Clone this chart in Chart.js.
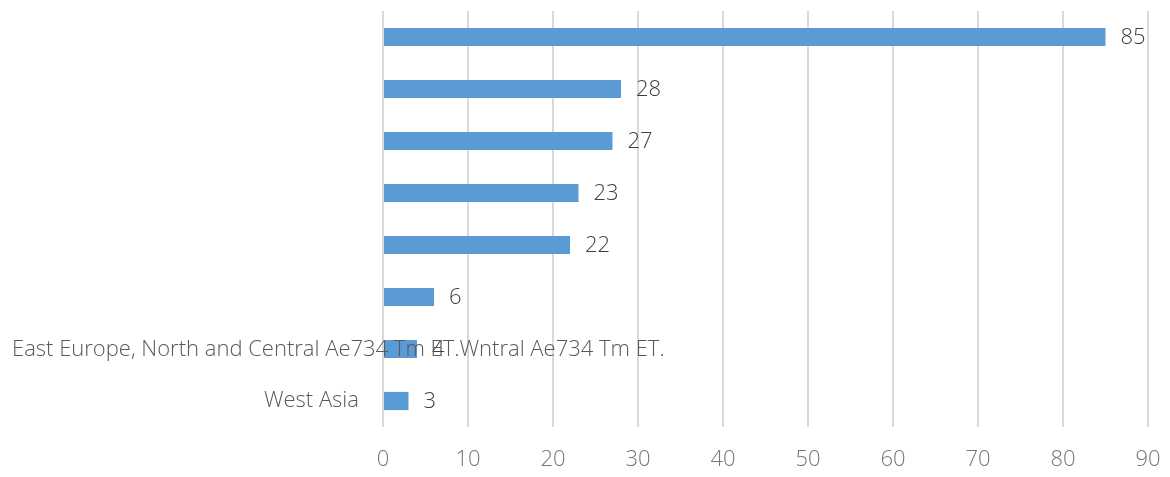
<!DOCTYPE html>
<html>
<head>
<meta charset="utf-8">
<script src="https://cdn.jsdelivr.net/npm/chart.js@4.4.0/dist/chart.umd.min.js"></script>
<style>
  html, body { margin: 0; padding: 0; background: #fff; }
  #wrap { width: 1170px; height: 477px; }
</style>
</head>
<body>
<div id="wrap"><canvas id="regionChart"></canvas></div>
<script>
var regions = ['', '', '', '', '', '', 'East Europe, North and Central Ae734 Tm ET.Wntral Ae734 Tm ET.', 'West Asia'];
var counts = [85, 28, 27, 23, 22, 6, 4, 3];
var xTicks = [0, 10, 20, 30, 40, 50, 60, 70, 80, 90];

// the long label sits left-aligned across the plot, so it is drawn separately
var longLabelIndex = 6;

var fontFamily = '"Open Sans", "Noto Sans", sans-serif';
var fontSize = 22;

var valueLabels = {
  id: 'valueLabels',
  afterDatasetsDraw: function(chart) {
    var ctx = chart.ctx;
    var meta = chart.getDatasetMeta(0);
    ctx.save();
    ctx.font = '300 ' + fontSize + 'px ' + fontFamily;
    ctx.fillStyle = '#404040';
    ctx.textBaseline = 'middle';
    ctx.textAlign = 'left';
    meta.data.forEach(function(bar, i) {
      ctx.fillText(String(counts[i]), bar.x + 15, bar.y + 1);
    });
    // overflowing category label
    var yScale = chart.scales.y;
    ctx.fillStyle = '#595959';
    ctx.fillText(regions[longLabelIndex], 12, yScale.getPixelForValue(longLabelIndex) + 1);
    ctx.restore();
  }
};

var ctx = document.getElementById('regionChart');

var barChart = new Chart(ctx, {
  type: 'bar',
  data: {
    labels: regions,
    datasets: [{
      data: counts,
      backgroundColor: '#5B9BD5',
      borderWidth: 0,
      barPercentage: 0.7,
      categoryPercentage: 0.5
    }]
  },
  plugins: [valueLabels],
  options: {
    indexAxis: 'y',
    responsive: true,
    maintainAspectRatio: false,
    animation: false,
    layout: { padding: { top: 11, right: 22, left: 0, bottom: 0 } },
    plugins: {
      legend: { display: false },
      tooltip: { enabled: false }
    },
    scales: {
      x: {
        min: 0,
        max: 90,
        afterBuildTicks: function(scale) {
          scale.ticks = xTicks.map(function(v) { return { value: v }; });
        },
        afterFit: function(scale) {
          scale.height = 50;
          scale.paddingLeft = 0;
          scale.paddingRight = 0;
        },
        grid: { color: '#d9d9d9', lineWidth: 2, drawTicks: false },
        border: { display: false },
        ticks: {
          color: '#767676',
          padding: 20,
          font: { family: fontFamily, size: fontSize, weight: '300' }
        }
      },
      y: {
        afterFit: function(scale) {
          scale.width = 383;
          scale.paddingTop = 0;
          scale.paddingBottom = 0;
        },
        grid: { display: false, drawTicks: false },
        border: { display: false },
        ticks: {
          color: '#595959',
          padding: 24,
          autoSkip: false,
          font: { family: fontFamily, size: fontSize, weight: '300' },
          callback: function(v, i) { return i === longLabelIndex ? '' : regions[i]; }
        }
      }
    }
  }
});
</script>
</body>
</html>
